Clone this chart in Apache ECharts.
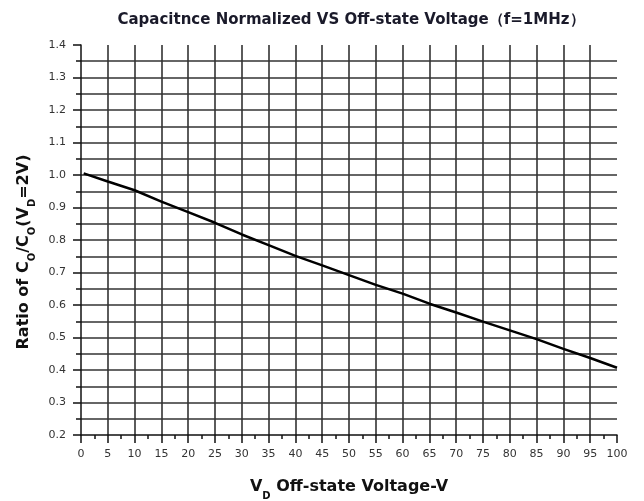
<!DOCTYPE html>
<html>
<head>
<meta charset="utf-8">
<script src="https://cdn.jsdelivr.net/npm/echarts@6/dist/echarts.min.js"></script>
<style>
  html, body { margin: 0; padding: 0; background: #fff; }
  #chart { width: 644px; height: 501px; }
</style>
</head>
<body>
<div id="chart"></div>
<script>
// 曲线数据：横轴 VD (V)，纵轴 Co/Co(VD=2V)
var voltage = [0.5, 5, 10, 15, 20, 25, 30, 35, 40, 45, 50, 55, 60, 65, 70, 75, 80, 85, 90, 95, 100];
var ratio = [1.005, 0.980, 0.953, 0.918, 0.886, 0.853, 0.817, 0.784, 0.751, 0.722, 0.692, 0.662, 0.635, 0.604, 0.577, 0.549, 0.522, 0.495, 0.465, 0.437, 0.407];

var titleText = 'Capacitnce Normalized VS Off-state Voltage\uFF08f=1MHz\uFF09';

var gridColor = '#333';

var chart = echarts.init(document.getElementById('chart'));

// 组装 [x, y] 点
var points = [];
for (var i = 0; i < voltage.length; i++) {
  points.push([voltage[i], ratio[i]]);
}

var subStyle = {
  fontFamily: 'DejaVu Sans',
  fontWeight: 'bold',
  fontSize: 10,
  color: '#111',
  lineHeight: 10,
  verticalAlign: 'bottom'
};

var option = {
  animation: false,
  backgroundColor: '#fff',
  title: {
    text: titleText,
    left: 346,
    textAlign: 'center',
    top: 8,
    textStyle: {
      fontFamily: 'DejaVu Sans',
      fontWeight: 'bold',
      fontSize: 15,
      color: '#1a1a2a'
    }
  },
  grid: {
    left: 81,
    right: 27,
    top: 45,
    bottom: 66,
    outerBoundsMode: 'none'
  },
  xAxis: {
    type: 'value',
    min: 0,
    max: 100,
    interval: 5,
    name: 'V{sub|D} Off-state Voltage-V',
    nameLocation: 'middle',
    nameGap: 38,
    nameTextStyle: {
      fontFamily: 'DejaVu Sans',
      fontWeight: 'bold',
      fontSize: 16,
      color: '#111',
      lineHeight: 28,
      rich: { sub: subStyle }
    },
    axisLine: { show: true, onZero: false, lineStyle: { color: '#111', width: 1.5 } },
    axisTick: { show: true, length: 8, lineStyle: { color: '#111', width: 1.5 } },
    minorTick: { show: true, splitNumber: 2, length: 4, lineStyle: { color: '#111', width: 1.5 } },
    axisLabel: {
      interval: 0,
      margin: 14,
      fontFamily: 'DejaVu Sans',
      fontSize: 11,
      color: '#333'
    },
    splitLine: { show: true, showMinLine: false, showMaxLine: false, lineStyle: { color: gridColor, width: 1.6 } }
  },
  yAxis: {
    type: 'value',
    min: 0.2,
    max: 1.4,
    interval: 0.1,
    name: 'Ratio of C{sub|O}/C{sub|O}(V{sub|D}=2V)',
    nameLocation: 'middle',
    nameGap: 42,
    nameTextStyle: {
      fontFamily: 'DejaVu Sans',
      fontWeight: 'bold',
      fontSize: 16,
      color: '#111',
      lineHeight: 28,
      padding: [0, 24, 0, 0],
      rich: { sub: subStyle }
    },
    axisLine: { show: true, onZero: false, lineStyle: { color: '#111', width: 1.5 } },
    axisTick: { show: true, length: 8, lineStyle: { color: '#111', width: 1.5 } },
    minorTick: { show: true, splitNumber: 2, length: 5, lineStyle: { color: '#111', width: 1.5 } },
    axisLabel: {
      margin: 15,
      fontFamily: 'DejaVu Sans',
      fontSize: 11,
      color: '#333',
      formatter: function (v) { return v.toFixed(1); }
    },
    splitLine: { show: true, showMinLine: false, showMaxLine: false, lineStyle: { color: gridColor, width: 1.6 } },
    minorSplitLine: { show: true, lineStyle: { color: gridColor, width: 1.6 } }
  },
  series: [{
    type: 'line',
    data: points,
    showSymbol: false,
    smooth: false,
    lineStyle: { color: '#000', width: 2.5 }
  }]
};

chart.setOption(option);
</script>
</body>
</html>
